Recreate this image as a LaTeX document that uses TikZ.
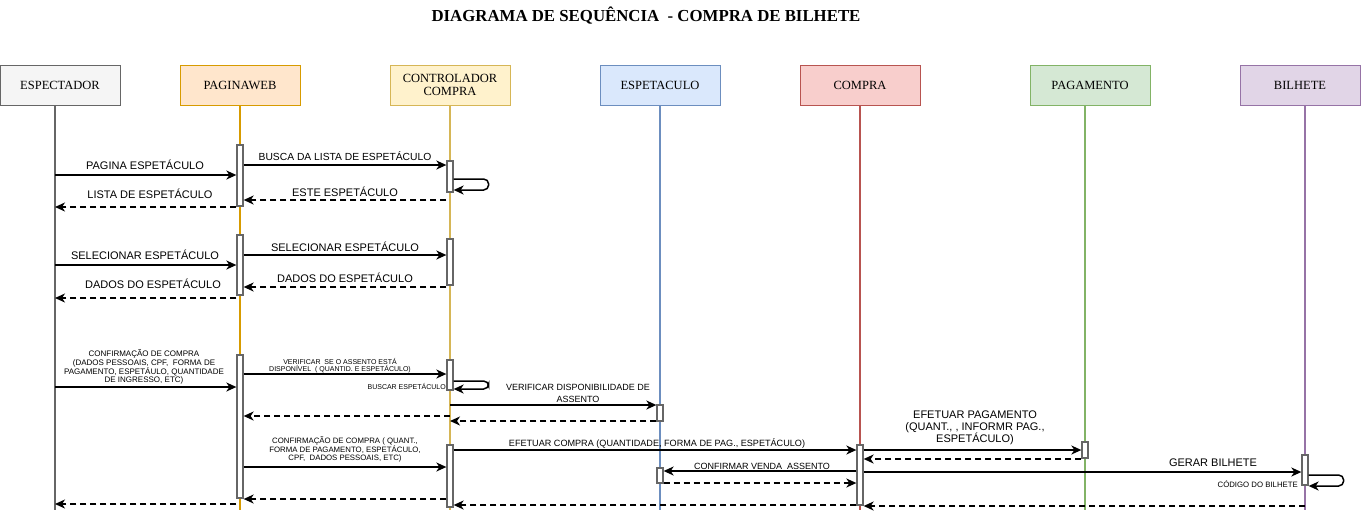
\documentclass[tikz,border=0pt]{standalone}
\usepackage{fontspec}
\setmainfont{Liberation Sans}
\newfontfamily\hdrfont{Liberation Serif}
\newfontfamily\ttlfont{Liberation Serif}
\usetikzlibrary{arrows.meta}
\definecolor{c1f}{HTML}{F5F5F5}\definecolor{c1d}{HTML}{666666}
\definecolor{c2f}{HTML}{FFE6CC}\definecolor{c2d}{HTML}{D79B00}
\definecolor{c3f}{HTML}{FFF2CC}\definecolor{c3d}{HTML}{D6B656}
\definecolor{c4f}{HTML}{DAE8FC}\definecolor{c4d}{HTML}{6C8EBF}
\definecolor{c5f}{HTML}{F8CECC}\definecolor{c5d}{HTML}{B85450}
\definecolor{c6f}{HTML}{D5E8D4}\definecolor{c6d}{HTML}{82B366}
\definecolor{c7f}{HTML}{E1D5E7}\definecolor{c7d}{HTML}{9673A6}
\begin{document}
\begin{tikzpicture}[x=1pt,y=-1pt,
  head/.style={draw, line width=1pt, minimum width=120pt, minimum height=40pt, inner sep=0pt, align=center,
    font=\hdrfont\fontsize{12.5}{13.5}\selectfont},
  lifeline/.style={line width=1.5pt},
  act/.style={draw=black!60, fill=white, line width=1.3pt, minimum width=6pt, inner sep=0pt},
  msg/.style={line width=1.5pt, -{Stealth[length=10pt,width=9pt,inset=3pt]}},
  ret/.style={msg, dash pattern=on 6pt off 4pt},
  lbl/.style={font=\fontsize{11}{12}\selectfont, inner sep=0pt, align=center},
  lbls/.style={font=\fontsize{7.8}{8.6}\selectfont, inner sep=0pt, align=center},
  lblxs/.style={font=\fontsize{7}{7.4}\selectfont, inner sep=0pt, align=center},
  loopr/.style={msg, rounded corners=5pt}
]
\useasboundingbox[fill=white] (0,0) rectangle (1361,515);

% title
\node[font=\ttlfont\bfseries\fontsize{16.8}{18}\selectfont, inner sep=0pt] (title) at (646,16) {DIAGRAMA DE SEQUÊNCIA\ \ - COMPRA DE BILHETE};

% heads
\node[head, fill=c1f, draw=c1d] (h1) at (60,85) {ESPECTADOR};
\node[head, fill=c2f, draw=c2d] (h2) at (240,85) {PAGINAWEB};
\node[head, fill=c3f, draw=c3d] (h3) at (450,85) {CONTROLADOR\\COMPRA};
\node[head, fill=c4f, draw=c4d] (h4) at (660,85) {ESPETACULO};
\node[head, fill=c5f, draw=c5d] (h5) at (860,85) {COMPRA};
\node[head, fill=c6f, draw=c6d] (h6) at (1090,85) {PAGAMENTO};
\node[head, fill=c7f, draw=c7d] (h7) at (1300,85) {BILHETE};

% lifelines
\coordinate (l1) at (55,105);   \coordinate (e1) at (55,510);
\coordinate (l2) at (240,105);  \coordinate (e2) at (240,510);
\coordinate (l3) at (450,105);  \coordinate (e3) at (450,510);
\coordinate (l4) at (660,105);  \coordinate (e4) at (660,510);
\coordinate (l5) at (860,105);  \coordinate (e5) at (860,510);
\coordinate (l6) at (1085,105); \coordinate (e6) at (1085,510);
\coordinate (l7) at (1305,105); \coordinate (e7) at (1305,510);
\draw[lifeline, draw=c1d] (l1) -- (e1);
\draw[lifeline, draw=c2d] (l2) -- (e2);
\draw[lifeline, draw=c3d] (l3) -- (e3);
\draw[lifeline, draw=c4d] (l4) -- (e4);
\draw[lifeline, draw=c5d] (l5) -- (e5);
\draw[lifeline, draw=c6d] (l6) -- (e6);
\draw[lifeline, draw=c7d] (l7) -- (e7);

% activations
\node[act, minimum height=61pt] (pw1) at (240,175.5) {};
\node[act, minimum height=31pt] (cc1) at (450,176.5) {};
\node[act, minimum height=60pt] (pw2) at (240,265) {};
\node[act, minimum height=46pt] (cc2) at (450,262) {};
\node[act, minimum height=143pt] (pw3) at (240,426.5) {};
\node[act, minimum height=30pt] (cc3) at (450,375) {};
\node[act, minimum height=16pt] (es1) at (660,413) {};
\node[act, minimum height=62pt] (cc4) at (450,476) {};
\node[act, minimum height=60pt] (co1) at (860,475) {};
\node[act, minimum height=16pt] (pg1) at (1085,450) {};
\node[act, minimum height=15pt] (es2) at (660,475.5) {};
\node[act, minimum height=30pt] (bi1) at (1305,470) {};

% message y levels
\foreach \n/\y in {m1/175,m2/165,m3a/179,m3b/190,m4/200,m5/207,
  m6/265,m7/255,m8/287,m9/298,
  m10/387,m11/374,m12a/381,m12b/389,m13/405,m14/421,m15/416,
  m16/467,m17/450,m18/450,m19/459,m20/471,m21/483,m22/472,m23a/475,m23b/486,
  m24/506,m25/505,m26/499,m27/504}
  \coordinate (\n) at (0,\y);

% group 1
\draw[msg] (l1|-m1) -- (pw1.west|-m1);
\draw[msg] (pw1.east|-m2) -- (cc1.west|-m2);
\draw[loopr] (cc1.east|-m3a) -| ++(35,11) -- (cc1.east|-m3b);
\draw[ret] (cc1.west|-m4) -- (pw1.east|-m4);
\draw[ret] (pw1.west|-m5) -- (l1|-m5);
\node[lbl] (t1) at (145,165) {PAGINA ESPETÁCULO};
\node[font=\fontsize{10.3}{12}\selectfont, inner sep=0pt] (t2) at (345,156) {BUSCA DA LISTA DE ESPETÁCULO};
\node[lbl] (t3) at (345,192) {ESTE ESPETÁCULO};
\node[lbl] (t4) at (150,194) {LISTA DE ESPETÁCULO};

% group 2
\draw[msg] (l1|-m6) -- (pw2.west|-m6);
\draw[msg] (pw2.east|-m7) -- (cc2.west|-m7);
\draw[ret] (cc2.west|-m8) -- (pw2.east|-m8);
\draw[ret] (pw2.west|-m9) -- (l1|-m9);
\node[lbl] (t5) at (145,255) {SELECIONAR ESPETÁCULO};
\node[lbl] (t6) at (345,247) {SELECIONAR ESPETÁCULO};
\node[lbl] (t7) at (345,278) {DADOS DO ESPETÁCULO};
\node[lbl] (t8) at (153,284) {DADOS DO ESPETÁCULO};

% group 3
\draw[msg] (l1|-m10) -- (pw3.west|-m10);
\draw[msg] (pw3.east|-m11) -- (cc3.west|-m11);
\draw[loopr] (cc3.east|-m12a) -| ++(35,8) -- (cc3.east|-m12b);
\draw[msg] (l3|-m13) -- (es1.west|-m13);
\draw[ret] (es1.west|-m14) -- (l3|-m14);
\draw[ret] (l3|-m15) -- (pw3.east|-m15);
\node[font=\fontsize{8}{8.7}\selectfont, inner sep=0pt, align=center] (t9) at (144,367)
  {CONFIRMAÇÃO DE COMPRA\\(DADOS PESSOAIS, CPF,\ \ FORMA DE\\PAGAMENTO, ESPETÁULO, QUANTIDADE\\DE INGRESSO, ETC)};
\node[lblxs] (t10) at (340,365.5) {VERIFICAR\ \ SE O ASSENTO ESTÁ\\DISPONÍVEL\ \ ( QUANTID. E ESPETÁCULO)};
\node[lblxs, anchor=east] (t11) at (446,386) {BUSCAR ESPETÁCULO};
\node[font=\fontsize{9}{12}\selectfont, inner sep=0pt, align=center] (t12) at (578,393) {VERIFICAR DISPONIBILIDADE DE\\ASSENTO};

% group 4
\draw[msg] (pw3.east|-m16) -- (cc4.west|-m16);
\draw[msg] (cc4.east|-m17) -- (co1.west|-m17);
\draw[msg] (co1.east|-m18) -- (pg1.west|-m18);
\draw[ret] (pg1.west|-m19) -- (co1.east|-m19);
\draw[msg] (co1.west|-m20) -- (es2.east|-m20);
\draw[ret] (es2.east|-m21) -- (co1.west|-m21);
\draw[msg] (co1.east|-m22) -- (bi1.west|-m22);
\draw[loopr] (bi1.east|-m23a) -| ++(35,11) -- (bi1.east|-m23b);
\draw[ret] (l7|-m24) -- (co1.east|-m24);
\draw[ret] (co1.west|-m25) -- (cc4.east|-m25);
\draw[ret] (cc4.west|-m26) -- (pw3.east|-m26);
\draw[ret] (pw3.west|-m27) -- (l1|-m27);
\node[lbls] (t13) at (345,449.5) {CONFIRMAÇÃO DE COMPRA ( QUANT.,\\FORMA DE PAGAMENTO, ESPETÁCULO,\\CPF,\ \ DADOS PESSOAIS, ETC)};
\node[font=\fontsize{9.1}{10}\selectfont, inner sep=0pt] (t14) at (657,443) {EFETUAR COMPRA (QUANTIDADE, FORMA DE PAG., ESPETÁCULO)};
\node[font=\fontsize{11}{12}\selectfont, inner sep=0pt, align=center] (t15) at (975,428) {EFETUAR PAGAMENTO\\(QUANT., , INFORMR PAG.,\\ESPETÁCULO)};
\node[font=\fontsize{9}{10}\selectfont, inner sep=0pt] (t16) at (762,466) {CONFIRMAR VENDA\ \ ASSENTO};
\node[lbl] (t17) at (1213,463) {GERAR BILHETE};
\node[font=\fontsize{7.8}{8}\selectfont, inner sep=0pt, anchor=east] (t18) at (1298,484) {CÓDIGO DO BILHETE};
\end{tikzpicture}
\end{document}
